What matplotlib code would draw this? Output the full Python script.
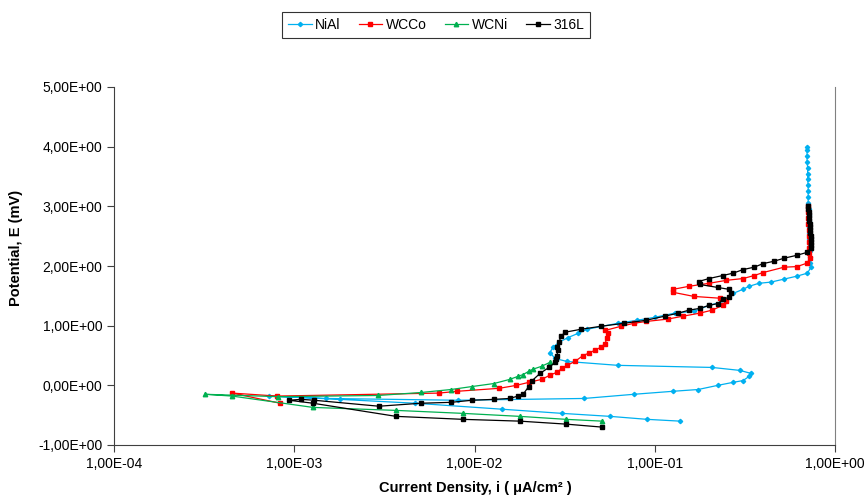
import matplotlib
matplotlib.use("Agg")
import matplotlib.pyplot as plt
from matplotlib.lines import Line2D
from matplotlib.ticker import FuncFormatter, NullLocator, MultipleLocator

plt.rcParams['font.family'] = ['Liberation Sans', 'DejaVu Sans']

# NiAl: current density (uA/cm2) and potential (mV)
nial_i = [0.138, 0.0906, 0.0565, 0.0306, 0.0142, 4.68e-3, 1.79e-3, 7.24e-4, 1.5e-3, 8.1e-3,
          0.0405, 0.0767, 0.126, 0.174, 0.224, 0.272, 0.309, 0.334, 0.342, 0.297, 0.208,
          0.0625, 0.0326, 0.028, 0.0262, 0.0273, 0.0294, 0.033, 0.0375, 0.0421, 0.0625,
          0.0797, 0.100, 0.129, 0.165, 0.200, 0.250, 0.272, 0.309, 0.334, 0.378, 0.441,
          0.521, 0.615, 0.703, 0.736, 0.73, 0.73, 0.725, 0.725, 0.72, 0.72, 0.72, 0.715,
          0.715, 0.715, 0.71, 0.71, 0.71, 0.71, 0.705, 0.705, 0.705, 0.70, 0.70, 0.70, 0.70]
nial_e = [-0.60, -0.57, -0.52, -0.47, -0.40, -0.30, -0.235, -0.18, -0.22, -0.25,
          -0.22, -0.15, -0.10, -0.07, 0.0, 0.05, 0.08, 0.15, 0.20, 0.25, 0.30,
          0.335, 0.40, 0.45, 0.55, 0.64, 0.72, 0.80, 0.87, 0.94, 1.04,
          1.09, 1.14, 1.21, 1.24, 1.34, 1.42, 1.54, 1.61, 1.66, 1.71, 1.73,
          1.78, 1.83, 1.88, 1.98, 2.05, 2.15, 2.25, 2.35, 2.45, 2.55, 2.65, 2.75,
          2.85, 2.95, 3.05, 3.15, 3.25, 3.35, 3.45, 3.55, 3.65, 3.75, 3.85, 3.95, 4.0]

# WCCo
wcco_i = [8.34e-4, 4.52e-4, 8.02e-4, 6.35e-3, 8.0e-3, 0.0137, 0.0171, 0.020, 0.0236, 0.0262,
          0.0287, 0.0306, 0.0326, 0.0361, 0.040, 0.0432, 0.0466, 0.0504, 0.053, 0.0543,
          0.0551, 0.053, 0.065, 0.0767, 0.0893, 0.118, 0.144, 0.178, 0.208, 0.238, 0.250,
          0.230, 0.165, 0.126, 0.127, 0.155, 0.200, 0.250, 0.309, 0.356, 0.399, 0.521,
          0.615, 0.703, 0.722, 0.72, 0.72, 0.715, 0.715, 0.715, 0.71, 0.71, 0.71, 0.71]
wcco_e = [-0.30, -0.13, -0.18, -0.13, -0.10, -0.05, 0.0, 0.05, 0.10, 0.17,
          0.22, 0.285, 0.335, 0.40, 0.50, 0.54, 0.59, 0.64, 0.70, 0.79,
          0.87, 0.92, 0.99, 1.04, 1.07, 1.11, 1.16, 1.21, 1.26, 1.34, 1.42,
          1.46, 1.49, 1.56, 1.61, 1.66, 1.71, 1.76, 1.79, 1.84, 1.89, 1.98,
          1.99, 2.05, 2.13, 2.21, 2.30, 2.40, 2.50, 2.60, 2.70, 2.80, 2.90, 3.0]

# WCNi
wcni_i = [0.0509, 0.0322, 0.0178, 8.63e-3, 3.67e-3, 1.27e-3, 4.52e-4, 3.2e-4, 8.13e-4, 2.92e-3,
          5.05e-3, 7.41e-3, 9.7e-3, 0.0128, 0.0157, 0.0174, 0.0186, 0.020, 0.0211, 0.0236, 0.0262]
wcni_e = [-0.60, -0.57, -0.52, -0.47, -0.42, -0.37, -0.18, -0.15, -0.19, -0.17,
          -0.12, -0.07, -0.02, 0.03, 0.10, 0.15, 0.18, 0.235, 0.27, 0.32, 0.385]

# 316L
s316_i = [0.0509, 0.0322, 0.0178, 8.63e-3, 3.67e-3, 1.27e-3, 9.35e-4, 1.09e-3, 1.29e-3, 2.95e-3,
          5.05e-3, 7.41e-3, 9.7e-3, 0.0128, 0.0157, 0.0174, 0.0186, 0.020, 0.0209, 0.0231,
          0.0259, 0.028, 0.0283, 0.0287, 0.029, 0.0287, 0.0294, 0.0302, 0.0318, 0.039,
          0.0504, 0.0675, 0.0893, 0.114, 0.135, 0.155, 0.178, 0.200, 0.224, 0.238, 0.257,
          0.265, 0.257, 0.224, 0.178, 0.175, 0.200, 0.238, 0.272, 0.309, 0.356, 0.399,
          0.459, 0.521, 0.615, 0.703, 0.736, 0.74, 0.74, 0.735, 0.735, 0.73, 0.73, 0.725,
          0.725, 0.72, 0.72, 0.715, 0.715, 0.71, 0.71]
s316_e = [-0.70, -0.65, -0.60, -0.57, -0.52, -0.30, -0.25, -0.235, -0.25, -0.35,
          -0.30, -0.285, -0.25, -0.235, -0.22, -0.18, -0.15, -0.02, 0.08, 0.20,
          0.30, 0.385, 0.436, 0.50, 0.59, 0.65, 0.72, 0.82, 0.89, 0.94,
          0.99, 1.04, 1.09, 1.16, 1.21, 1.26, 1.29, 1.34, 1.37, 1.44, 1.475,
          1.54, 1.61, 1.64, 1.69, 1.74, 1.79, 1.84, 1.88, 1.94, 1.98, 2.04,
          2.08, 2.13, 2.18, 2.23, 2.31, 2.35, 2.40, 2.45, 2.50, 2.55, 2.60, 2.65,
          2.70, 2.75, 2.80, 2.85, 2.90, 2.95, 3.0]

series = [
    ("NiAl", nial_i, nial_e, '#00B0F0', 'D', 2.2),
    ("WCCo", wcco_i, wcco_e, '#FF0000', 's', 3.0),
    ("WCNi", wcni_i, wcni_e, '#00B050', '^', 3.2),
    ("316L", s316_i, s316_e, '#000000', 's', 3.0),
]

fig = plt.figure(figsize=(8.66, 4.97), dpi=100)
ax = fig.add_axes([114 / 866, 1 - 445 / 497, 721 / 866, 358 / 497])

for name, xi, ye, col, mk, ms in series:
    ax.plot(xi, ye, color=col, lw=0.9, marker=mk, ms=ms, mec=col, mfc=col, label=name)

ax.set_xscale('log')
ax.set_xlim(1e-4, 1)
ax.set_ylim(-1, 5)
ax.xaxis.set_minor_locator(NullLocator())
ax.yaxis.set_major_locator(MultipleLocator(1))
ax.xaxis.set_major_formatter(FuncFormatter(lambda v, p: f"{v:.2E}".replace('.', ',')))
ax.yaxis.set_major_formatter(FuncFormatter(lambda v, p: f"{v:.2E}".replace('.', ',')))
ax.tick_params(direction='out', length=5, width=0.8, labelsize=10, color='#404040')

ax.spines['top'].set_visible(False)
ax.spines['right'].set_color('#808080')
ax.spines['left'].set_color('#404040')
ax.spines['bottom'].set_color('#404040')

ax.set_ylabel("Potential, E (mV)", fontsize=10.5, fontweight='bold')
ax.yaxis.set_label_coords(-0.126, 0.55)
ax.set_xlabel("Current Density, i ( \u03bcA/cm\u00b2 )", fontsize=10.5, fontweight='bold')
ax.xaxis.set_label_coords(0.5007, -0.10)

handles = [Line2D([0], [0], color=c, lw=0.9, marker=m, ms=s, label=n)
           for n, _, _, c, m, s in series]
leg = fig.legend(handles=handles, loc='center', bbox_to_anchor=(0.5035, 0.95), ncol=4,
                 fontsize=10, frameon=True, fancybox=False, edgecolor='black',
                 handlelength=1.7, columnspacing=1.3, borderpad=0.45, handletextpad=0.25)
leg.get_frame().set_linewidth(0.8)

fig.savefig("out.png", dpi=100)
